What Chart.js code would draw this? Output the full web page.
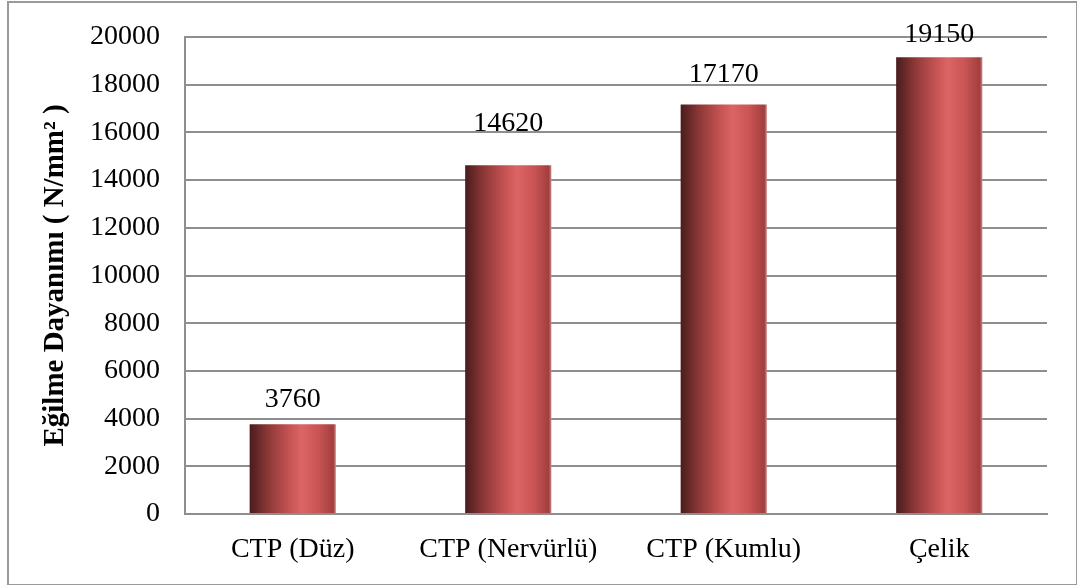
<!DOCTYPE html>
<html>
<head>
<meta charset="utf-8">
<script src="https://cdn.jsdelivr.net/npm/chart.js@4/dist/chart.umd.min.js"></script>
<style>
  html, body { margin: 0; padding: 0; background: #ffffff; }
  #wrap { position: relative; width: 1077px; height: 585px; }
</style>
</head>
<body>
<div id="wrap"><canvas id="chart" width="1077" height="585"></canvas></div>
<script>
// Flexural strength by reinforcement type
const categories = ['CTP (Düz)', 'CTP (Nervürlü)', 'CTP (Kumlu)', 'Çelik'];
const strengthValues = [3760, 14620, 17170, 19150];
const yTicks = [0, 2000, 4000, 6000, 8000, 10000, 12000, 14000, 16000, 18000, 20000];
const yAxisTitle = 'Eğilme Dayanımı ( N/mm² )';

// gap in px between each value label's baseline and its bar top
const labelGaps = [17, 34, 22, 15];

const FONT = "'Liberation Serif', 'Times New Roman', serif";
const GRID = '#8e8e8e';

// horizontal cylinder-style shading across each bar
function barGradient(ctx) {
  const chart = ctx.chart;
  const area = chart.chartArea;
  if (!area || ctx.type !== 'data') return '#c05050';
  const x = chart.scales.x;
  const cx = x.getPixelForValue(ctx.dataIndex);
  const w = (area.right - area.left) / categories.length * 0.8 * 0.5;
  const g = chart.ctx.createLinearGradient(cx - w / 2, 0, cx + w / 2, 0);
  g.addColorStop(0.00, '#4a1c1c');
  g.addColorStop(0.22, '#8e3838');
  g.addColorStop(0.45, '#c45252');
  g.addColorStop(0.60, '#dc6464');
  g.addColorStop(0.80, '#c95454');
  g.addColorStop(0.97, '#a33e3e');
  g.addColorStop(1.00, '#c88a8a');
  return g;
}

const framePlugin = {
  id: 'frame',
  beforeDraw(chart) {
    const c = chart.ctx;
    c.save();
    c.fillStyle = '#ffffff';
    c.fillRect(0, 0, chart.width, chart.height);
    c.strokeStyle = '#9a9a9a';
    c.lineWidth = 2;
    c.strokeRect(8, 2, chart.width - 8, chart.height - 2);
    c.restore();
  }
};

const valueLabels = {
  id: 'valueLabels',
  afterDatasetsDraw(chart) {
    const c = chart.ctx;
    const meta = chart.getDatasetMeta(0);
    c.save();
    c.font = '28px ' + FONT;
    c.fillStyle = '#000000';
    c.textAlign = 'center';
    c.textBaseline = 'alphabetic';
    meta.data.forEach((bar, i) => {
      c.fillText(String(strengthValues[i]), bar.x, bar.y - labelGaps[i]);
    });
    c.restore();
  }
};

new Chart(document.getElementById('chart'), {
  type: 'bar',
  data: {
    labels: categories,
    datasets: [{
      data: strengthValues,
      backgroundColor: barGradient,
      borderWidth: 0,
      categoryPercentage: 0.8,
      barPercentage: 0.5
    }]
  },
  options: {
    responsive: false,
    animation: false,
    devicePixelRatio: 1,
    layout: { padding: { left: 38, right: 30, top: 37, bottom: 0 } },
    plugins: {
      legend: { display: false },
      tooltip: { enabled: false }
    },
    scales: {
      x: {
        grid: { display: false, drawTicks: false },
        border: { color: GRID, width: 2 },
        ticks: {
          color: '#000000',
          font: { family: FONT, size: 28 },
          padding: 19,
          maxRotation: 0
        },
        afterFit(scale) { scale.height = 71; }
      },
      y: {
        min: 0,
        max: 20000,
        afterBuildTicks(scale) { scale.ticks = yTicks.map(v => ({ value: v })); },
        grid: { color: GRID, lineWidth: 2, drawTicks: false },
        border: { color: GRID, width: 2 },
        ticks: {
          color: '#000000',
          font: { family: FONT, size: 28 },
          padding: 25,
          callback: (v) => String(v)
        },
        title: {
          display: true,
          text: yAxisTitle,
          color: '#000000',
          font: { family: FONT, size: 29, weight: 'bold' },
          padding: { top: 0, bottom: 0 }
        },
        afterFit(scale) {
          scale.width = 147;
          scale.paddingTop = 0;
          scale.paddingBottom = 0;
        }
      }
    }
  },
  plugins: [framePlugin, valueLabels]
});
</script>
</body>
</html>
